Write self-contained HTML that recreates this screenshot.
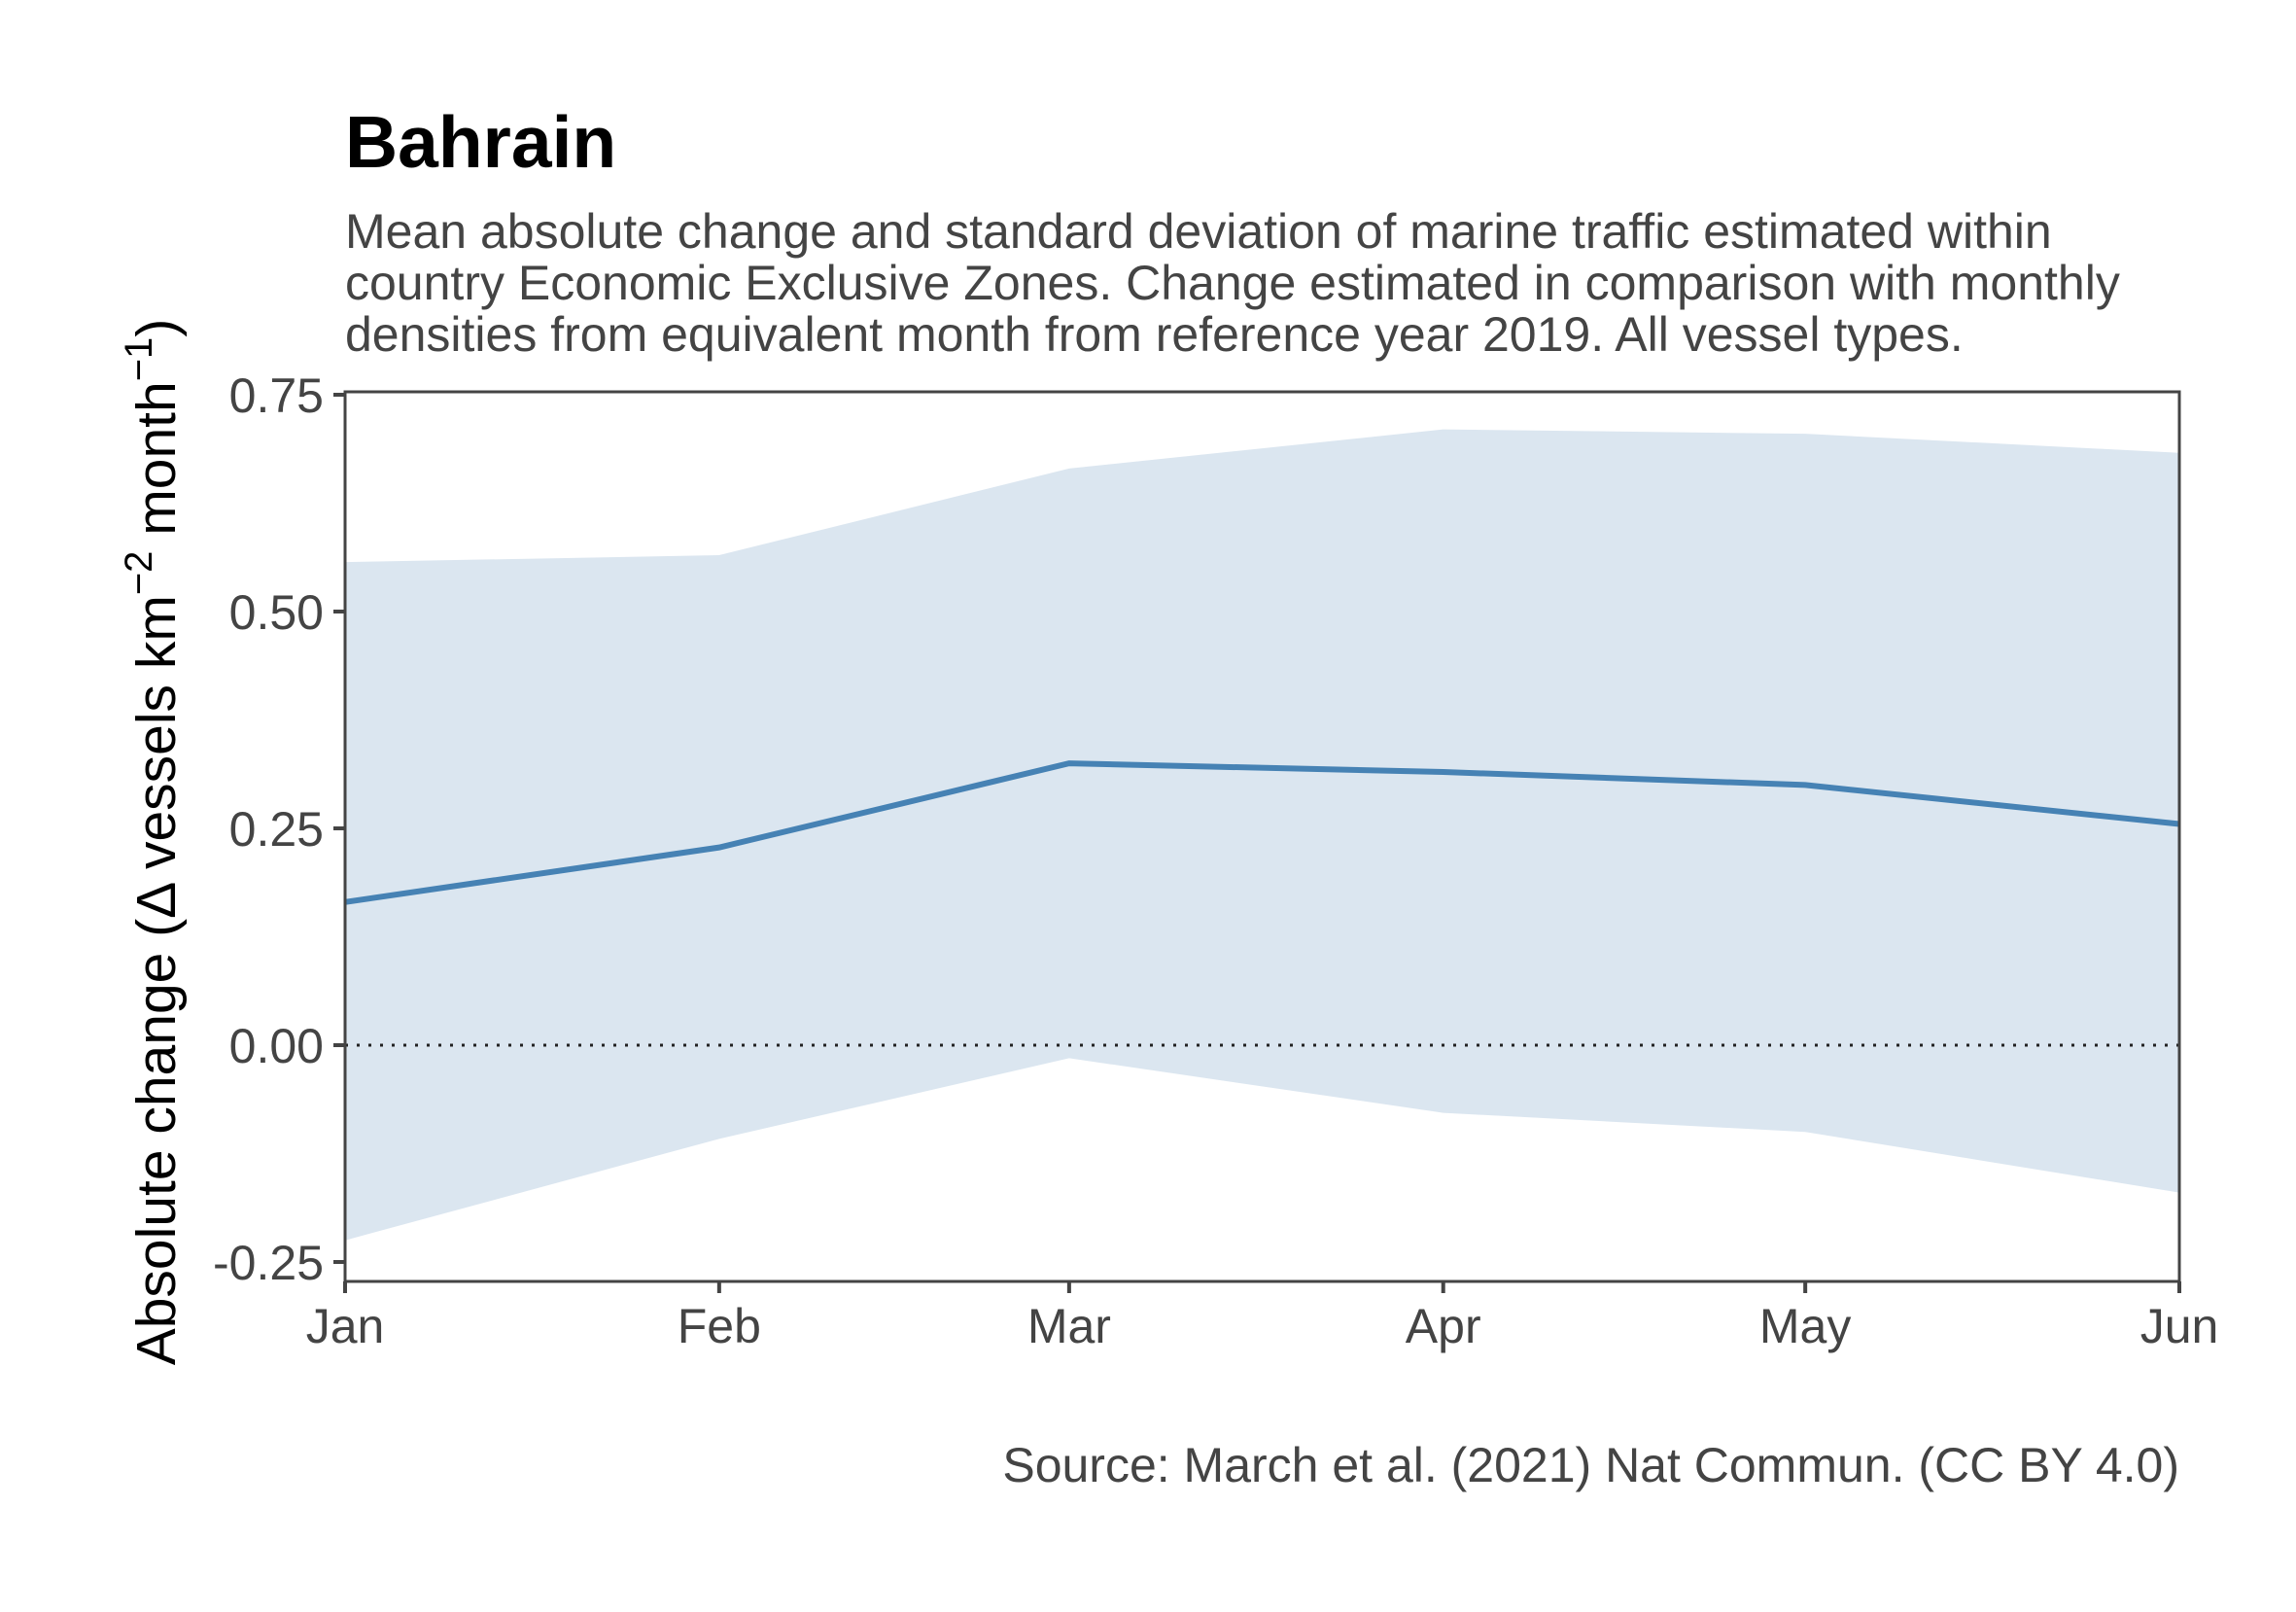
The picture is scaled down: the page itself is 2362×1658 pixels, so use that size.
<!DOCTYPE html>
<html><head><meta charset="utf-8"><style>
body{margin:0;background:#fff;}
svg text{font-family:"Liberation Sans",Arial,sans-serif;}
</style></head><body>
<svg width="2362" height="1653" viewBox="0 0 2362 1653" xmlns="http://www.w3.org/2000/svg">
<rect width="2362" height="1653" fill="#fff"/>
<text x="355" y="172" font-size="75" font-weight="bold" fill="#000">Bahrain</text>
<g font-size="50" fill="#444">
<text x="355" y="255">Mean absolute change and standard deviation of marine traffic estimated within</text>
<text x="355" y="308">country Economic Exclusive Zones. Change estimated in comparison with monthly</text>
<text x="355" y="361">densities from equivalent month from reference year 2019. All vessel types.</text>
</g>
<g id="plot"></g>
<text transform="translate(180,866) rotate(-90)" text-anchor="middle" font-size="57" fill="#000">Absolute change (Δ vessels km<tspan dy="-24" font-size="40">−2</tspan><tspan dy="24"> month</tspan><tspan dy="-24" font-size="40">−1</tspan><tspan dy="24">)</tspan></text>
<text x="2242" y="1524" text-anchor="end" font-size="50" fill="#444">Source: March et al. (2021) Nat Commun. (CC BY 4.0)</text>
</svg>
<script>
const months=["Jan","Feb","Mar","Apr","May","Jun"];
const monthDays=[0,31,60,91,121,152];
const meanVals=[0.165,0.228,0.325,0.315,0.300,0.255];
const upperVals=[0.557,0.565,0.665,0.710,0.705,0.683];
const lowerVals=[-0.225,-0.108,-0.015,-0.078,-0.100,-0.170];
const yTicks=[-0.25,0,0.25,0.5,0.75];
const yTickLabels=["-0.25","0.00","0.25","0.50","0.75"];
const L=355,R=2242,T=403,B=1318;
const NS="http://www.w3.org/2000/svg";
const x=d=>L+(d-0)/(152-0)*(R-L);
const y=v=>1075-(v/0.25)*223;
const g=document.getElementById('plot');
function mk(t,a){const e=document.createElementNS(NS,t);for(const k in a)e.setAttribute(k,a[k]);g.appendChild(e);return e;}
let p=monthDays.map((d,i)=>x(d)+','+y(upperVals[i]));
for(let i=monthDays.length-1;i>=0;i--)p.push(x(monthDays[i])+','+y(lowerVals[i]));
const band=mk('polygon',{points:p.join(' '),fill:'#dbe6f0'});


const zl=mk('line',{x1:L,x2:R,y1:y(0),y2:y(0),stroke:'#222','stroke-width':3,'stroke-dasharray':'3,9'});


const ml=mk('polyline',{points:monthDays.map((d,i)=>x(d)+','+y(meanVals[i])).join(' '),fill:'none',stroke:'#4682b4','stroke-width':6});


const fr=mk('rect',{x:L,y:T,width:R-L,height:B-T,fill:'none',stroke:'#444','stroke-width':3});


yTicks.forEach((v,i)=>{
 const t=mk('line',{x1:L-12,x2:L,y1:y(v),y2:y(v),stroke:'#444','stroke-width':4});
 
 
 const tx=mk('text',{x:L-22,y:y(v)+18,'text-anchor':'end','font-size':50,fill:'#444'});
 tx.textContent=yTickLabels[i];
 
 
});
months.forEach((m,i)=>{
 const xx=x(monthDays[i]);
 const t=mk('line',{x1:xx,x2:xx,y1:B,y2:B+12,stroke:'#444','stroke-width':4});
 
 
 const tx=mk('text',{x:xx,y:B+63,'text-anchor':'middle','font-size':50,fill:'#444'});
 tx.textContent=m;
 
 
});
</script>
</body></html>
